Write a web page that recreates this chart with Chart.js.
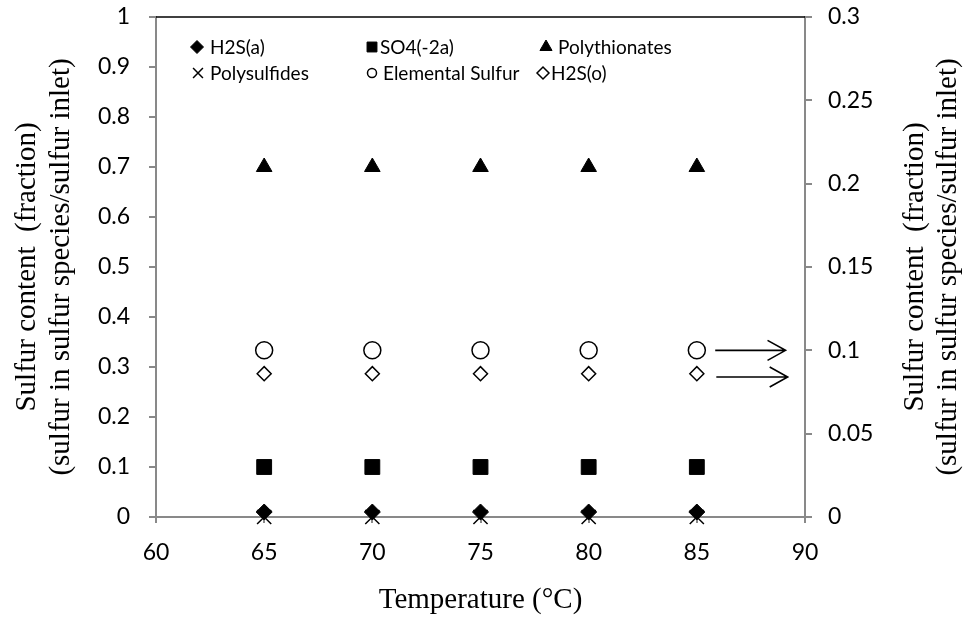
<!DOCTYPE html>
<html>
<head>
<meta charset="utf-8">
<script src="https://cdn.jsdelivr.net/npm/chart.js@4/dist/chart.umd.min.js"></script>
<style>
  html, body { margin: 0; padding: 0; background: #fff; }
  #wrap { width: 968px; height: 621px; position: relative; }
</style>
</head>
<body>
<div id="wrap"><canvas id="c" width="968" height="621"></canvas></div>
<script>
// ---- data ----
const temperatures = [65, 70, 75, 80, 85];
const h2sAqueous = [0.01, 0.01, 0.01, 0.01, 0.01];
const sulfate = [0.1, 0.1, 0.1, 0.1, 0.1];
const polythionates = [0.7, 0.7, 0.7, 0.7, 0.7];
const polysulfides = [0, 0, 0, 0, 0];
const elementalSulfur = [0.1, 0.1, 0.1, 0.1, 0.1];      // right axis
const h2sOrganic = [0.086, 0.086, 0.086, 0.086, 0.086];  // right axis

const seriesLabels = ['H2S(a)', 'SO4(-2a)', 'Polythionates', 'Polysulfides', 'Elemental Sulfur', 'H2S(o)'];
const xTickLabels = ['60', '65', '70', '75', '80', '85', '90'];
const leftTickLabels = ['0', '0.1', '0.2', '0.3', '0.4', '0.5', '0.6', '0.7', '0.8', '0.9', '1'];
const rightTickLabels = ['0', '0.05', '0.1', '0.15', '0.2', '0.25', '0.3'];

// arrows pointing to the right axis (right-axis values / temperatures)
const arrowY = [0.1, 0.084];
const arrowStart = [85.85, 85.9];
const arrowEnd = [89.1, 89.2];

const xTitle = 'Temperature (°C)';
const yTitle = ['Sulfur content  (fraction)', '(sulfur in sulfur species/sulfur inlet)'];

const AXIS_GRAY = '#898989';
const SERIF = "'Liberation Serif', 'Times New Roman', serif";
Chart.defaults.font.family = "Lato, 'Open Sans', sans-serif";
Chart.defaults.color = '#000';

function pts(ys) { return temperatures.map((t, i) => ({ x: t, y: ys[i] })); }

const datasets = [
  { label: seriesLabels[0], data: pts(h2sAqueous), pointStyle: 'rectRot', pointRadius: 8, backgroundColor: '#000', borderColor: '#000', borderWidth: 1, yAxisID: 'y', legendRadius: 6.5 },
  { label: seriesLabels[1], data: pts(sulfate), pointStyle: 'rect', pointRadius: 10.5, backgroundColor: '#000', borderColor: '#000', borderWidth: 1, yAxisID: 'y', legendRadius: 7 },
  { label: seriesLabels[2], data: pts(polythionates), pointStyle: 'triangle', pointRadius: 9, backgroundColor: '#000', borderColor: '#000', borderWidth: 1, yAxisID: 'y', legendRadius: 7 },
  { label: seriesLabels[3], data: pts(polysulfides), pointStyle: 'crossRot', pointRadius: 10, backgroundColor: '#000', borderColor: '#000', borderWidth: 1.5, yAxisID: 'y', legendRadius: 7 },
  { label: seriesLabels[4], data: pts(elementalSulfur), pointStyle: 'circle', pointRadius: 8.5, backgroundColor: '#fff', borderColor: '#000', borderWidth: 1.5, yAxisID: 'y1', legendRadius: 4.5 },
  { label: seriesLabels[5], data: pts(h2sOrganic), pointStyle: 'rectRot', pointRadius: 7, backgroundColor: '#fff', borderColor: '#000', borderWidth: 1.5, yAxisID: 'y1', legendRadius: 6 }
];
datasets.forEach(d => { d.showLine = false; d.clip = false; d.pointHoverRadius = d.pointRadius; });

// legend layout (3 columns x 2 rows)
const legendMarkerX = [197, 372, 546, 198, 372, 543];
const legendTextX = [210, 380, 558, 210, 383, 551];
const legendRows = [47, 73];

const extrasPlugin = {
  id: 'extras',
  afterDatasetsDraw(chart) {
    const ctx = chart.ctx;
    const { left, right, top } = chart.chartArea;
    const xs = chart.scales.x, y1 = chart.scales.y1;
    ctx.save();
    // top border of plot area
    ctx.strokeStyle = '#000';
    ctx.lineWidth = 1.5;
    ctx.beginPath();
    ctx.moveTo(left, top);
    ctx.lineTo(right, top);
    ctx.stroke();

    // arrows
    ctx.lineWidth = 1.6;
    for (let i = 0; i < arrowY.length; i++) {
      const py = y1.getPixelForValue(arrowY[i]);
      const x0 = xs.getPixelForValue(arrowStart[i]);
      const x1 = xs.getPixelForValue(arrowEnd[i]);
      ctx.beginPath();
      ctx.moveTo(x0, py);
      ctx.lineTo(x1, py);
      ctx.moveTo(x1 - 18, py - 10);
      ctx.lineTo(x1, py);
      ctx.lineTo(x1 - 18, py + 10);
      ctx.stroke();
    }

    // legend
    ctx.font = "19px Lato, 'Open Sans', sans-serif";
    ctx.textBaseline = 'middle';
    ctx.textAlign = 'left';
    chart.data.datasets.forEach((ds, i) => {
      const cy = legendRows[Math.floor(i / 3)];
      ctx.fillStyle = ds.backgroundColor;
      ctx.strokeStyle = ds.borderColor;
      ctx.lineWidth = ds.borderWidth;
      Chart.helpers.drawPoint(ctx, { pointStyle: ds.pointStyle, radius: ds.legendRadius, borderWidth: ds.borderWidth, rotation: 0 }, legendMarkerX[i], cy);
      ctx.fillStyle = '#000';
      ctx.fillText(ds.label, legendTextX[i], cy + 1);
    });

    // right-axis title (reads bottom to top, like the left one)
    ctx.font = '29px ' + SERIF;
    ctx.textAlign = 'center';
    ctx.textBaseline = 'middle';
    ctx.fillStyle = '#000';
    const cyMid = (chart.chartArea.top + chart.chartArea.bottom) / 2;
    const rightXs = [915, 948];
    yTitle.forEach((line, i) => {
      ctx.save();
      ctx.translate(rightXs[i], cyMid);
      ctx.rotate(-Math.PI / 2);
      ctx.fillText(line, 0, 0);
      ctx.restore();
    });
    ctx.restore();
  }
};

function fixV(w) { return s => { s.width = w; s.paddingTop = 0; s.paddingBottom = 0; }; }

new Chart(document.getElementById('c'), {
  type: 'scatter',
  data: { datasets },
  options: {
    responsive: false,
    animation: false,
    events: [],
    layout: { padding: { top: 17, left: 0, right: 0, bottom: 0 } },
    plugins: { legend: { display: false }, tooltip: { enabled: false } },
    scales: {
      x: {
        type: 'linear', min: 60, max: 90,
        afterFit(s) { s.height = 104; s.paddingLeft = 0; s.paddingRight = 0; },
        ticks: { stepSize: 5, padding: 16, font: { size: 23 }, color: '#000', callback: (v, i) => xTickLabels[i] },
        grid: { drawOnChartArea: false, drawTicks: true, tickLength: 6, color: AXIS_GRAY, lineWidth: 2 },
        border: { display: true, color: AXIS_GRAY, width: 2 },
        title: { display: true, text: xTitle, font: { family: SERIF, size: 29, lineHeight: 1.17 }, color: '#000', padding: { top: 0, bottom: 4 } }
      },
      y: {
        type: 'linear', position: 'left', min: 0, max: 1,
        afterFit: fixV(156),
        ticks: { stepSize: 0.1, padding: 19, font: { size: 23 }, color: '#000', callback: (v, i) => leftTickLabels[i] },
        grid: { drawOnChartArea: false, drawTicks: true, tickLength: 7, color: AXIS_GRAY, lineWidth: 2 },
        border: { display: true, color: AXIS_GRAY, width: 2 },
        title: { display: true, text: yTitle, font: { family: SERIF, size: 29, lineHeight: 1.17 }, color: '#000', padding: { top: 10, bottom: 0 } }
      },
      y1: {
        type: 'linear', position: 'right', min: 0, max: 0.3,
        afterFit: fixV(163),
        ticks: { stepSize: 0.05, padding: 16, font: { size: 23 }, color: '#000', callback: (v, i) => rightTickLabels[i] },
        grid: { drawOnChartArea: false, drawTicks: true, tickLength: 7, color: AXIS_GRAY, lineWidth: 2 },
        border: { display: true, color: AXIS_GRAY, width: 2 }
      }
    }
  },
  plugins: [extrasPlugin]
});
</script>
</body>
</html>
